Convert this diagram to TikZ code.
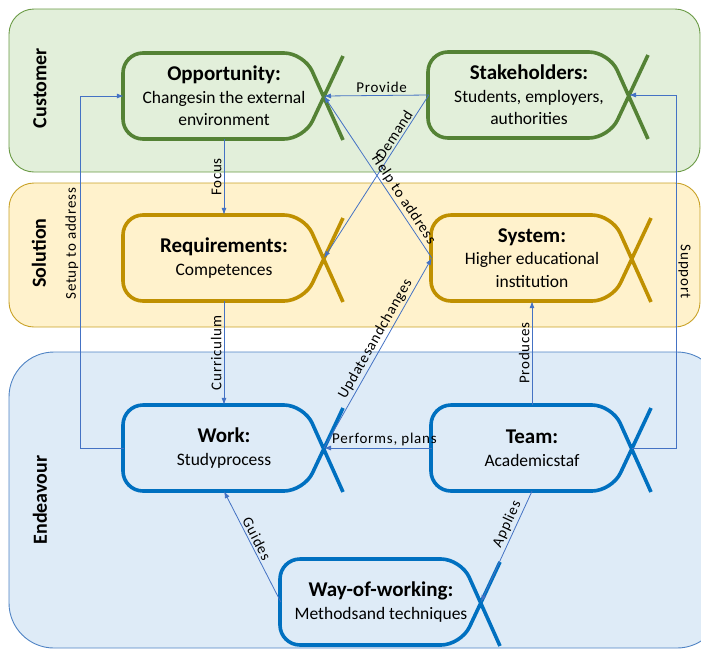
\documentclass[tikz,border=0pt]{standalone}
\usepackage{fontspec}
\setmainfont{Carlito}
\newfontfamily\lblfont[LetterSpace=5]{Carlito}
\usetikzlibrary{arrows.meta}

\definecolor{custfill}{HTML}{E2EFDA}
\definecolor{custline}{HTML}{6A9A45}
\definecolor{solfill}{HTML}{FFF2CC}
\definecolor{solline}{HTML}{C9A227}
\definecolor{endfill}{HTML}{DEEBF7}
\definecolor{endline}{HTML}{4F83C4}
\definecolor{alphagreen}{HTML}{548235}
\definecolor{alphagold}{HTML}{BF9000}
\definecolor{alphablue}{HTML}{0070C0}
\definecolor{linkblue}{HTML}{4472C4}

\tikzset{
  lane/.style={line width=0.9pt, rounded corners=25pt},
  lanelabel/.style={font=\bfseries\fontsize{20}{24}\selectfont, rotate=90},
  alpha edge/.style={line width=3.6pt, rounded corners=20pt},
  alpha text/.style={minimum width=200pt, minimum height=86pt, align=center,
    inner sep=0pt, font=\fontsize{17.5}{22.5}\selectfont},
  conn/.style={draw=linkblue, line width=0.8pt, -{Latex[length=7pt,width=5pt]}},
  lbl/.style={font=\lblfont\fontsize{15}{18}\selectfont, inner sep=2pt}
}

% alpha: name, left, top, colour, text
\newcommand{\alphabox}[5]{%
  \begin{scope}[shift={(#2,#3)}]
    \draw[alpha edge, draw=#4] (220,3) -- (181,86) -- (0,86) -- (0,0) -- (181,0) -- (220,87);
    \node[alpha text] (#1) at (101,43) {#5};
    \coordinate (#1-x) at (201,43);
  \end{scope}}
\newcommand{\ttl}[1]{{\bfseries\fontsize{21}{22.5}\selectfont #1}}

\begin{document}
\begin{tikzpicture}[x=1pt,y=-1pt]
  \useasboundingbox (0,0) rectangle (701,649);
  \clip (0,0) rectangle (701,649);

  % lanes
  \draw[lane, draw=custline, fill=custfill] (9,9) rectangle (700,172);
  \draw[lane, draw=solline, fill=solfill] (9,183) rectangle (700,327);
  \draw[lane, rounded corners=45pt, draw=endline, fill=endfill] (9,352) rectangle (722,648);
  \node[lanelabel] (customer) at (40,88) {Customer};
  \node[lanelabel] (solution) at (39,253) {Solution};
  \node[lanelabel] (endeavour) at (40,500) {Endeavour};

  % alphas
  \alphabox{opp}{123}{53}{alphagreen}{\ttl{Opportunity:}\\Changesin the external\\environment}
  \alphabox{stake}{428}{52}{alphagreen}{\ttl{Stakeholders:}\\Students, employers,\\authorities}
  \alphabox{req}{123}{215}{alphagold}{\ttl{Requirements:}\\Competences}
  \alphabox{sys}{431}{215}{alphagold}{\ttl{System:}\\Higher educational\\institution}
  \alphabox{work}{123}{405}{alphablue}{\ttl{Work:}\\Studyprocess}
  \alphabox{team}{431}{405}{alphablue}{\ttl{Team:}\\Academicstaf}
  \alphabox{wow}{280}{559}{alphablue}{\ttl{Way-of-working:}\\Methodsand techniques}

  % relations
  \draw[conn] (stake.west) -- node[lbl, above, pos=0.45] {Provide} (opp-x);
  \draw[conn] (stake.west) -- node[lbl, sloped, above, pos=0.27] {Demand} (req-x);
  \draw[conn] (sys.west) -- node[lbl, sloped, above, pos=0.33] {Help to address} (opp-x);
  \draw[conn] (work-x) -- node[lbl, sloped, above, pos=0.55] {Updatesandchanges} (sys.west);
  \draw[conn] (opp.south) -- node[lbl, rotate=90, anchor=south] {Focus} (req.north);
  \draw[conn] (req.south) -- node[lbl, rotate=90, anchor=south] {Curriculum} (work.north);
  \draw[conn] (work.west) -- ++(-43,0) |- node[lbl, rotate=90, anchor=south, pos=0.29] {Setup to address} (opp.west);
  \draw[conn] (team.north) -- node[lbl, rotate=90, anchor=south] {Produces} (sys.south);
  \draw[conn] (team.west) -- node[lbl, above, pos=0.44] {Performs, plans} (work-x);
  \draw[conn] (team-x) -- ++(44,0) |- node[lbl, rotate=-90, anchor=south, pos=0.25] {Support} (stake-x);
  \draw[conn] (team.south) -- node[lbl, sloped, above, pos=0.33] {Applies} (wow-x);
  \draw[conn] (wow.west) -- node[lbl, sloped, above, pos=0.54] {Guides} (work.south);
\end{tikzpicture}
\end{document}
